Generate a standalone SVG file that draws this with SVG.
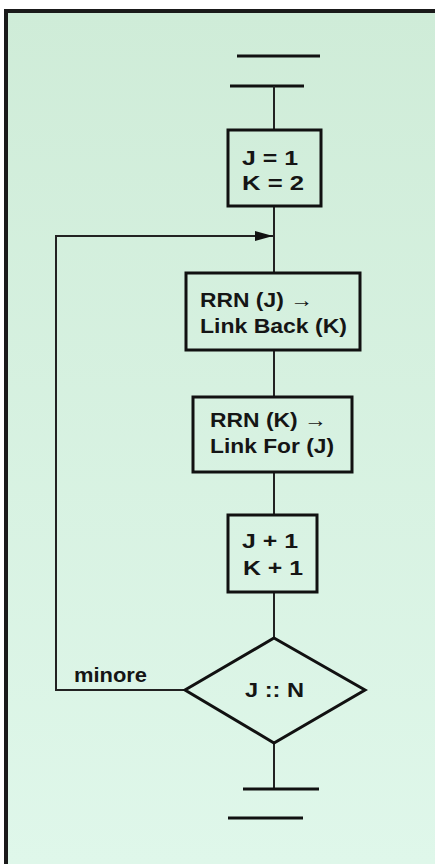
<svg xmlns="http://www.w3.org/2000/svg" width="435" height="867" viewBox="0 0 435 867">
<defs>
<linearGradient id="bg" x1="0" y1="0" x2="0" y2="1">
<stop offset="0" stop-color="#cfecd8"/>
<stop offset="1" stop-color="#dff7ea"/>
</linearGradient>
<marker id="arr" markerWidth="18" markerHeight="10" refX="18" refY="5" orient="auto" markerUnits="userSpaceOnUse">
<path d="M0,0 L18,5 L0,10 Z" fill="#111"/>
</marker>
<style>
.box{fill:none;stroke:#111;stroke-width:3}
.ln{fill:none;stroke:#222;stroke-width:2}
.bar{stroke:#111;stroke-width:3}
.t{font-family:"Liberation Sans",Arial,sans-serif;font-weight:bold;font-size:20px;fill:#151515}
</style>
</defs>
<rect x="0" y="0" width="435" height="867" fill="#ffffff"/>
<rect x="6" y="11" width="429" height="853" fill="url(#bg)"/>
<line x1="6" y1="11" x2="435" y2="11" stroke="#1a1a1a" stroke-width="4"/>
<line x1="6" y1="9" x2="6" y2="864" stroke="#1a1a1a" stroke-width="4"/>

<g id="connectors">
<line class="bar" x1="237" y1="56" x2="320" y2="56"/>
<line class="bar" x1="230" y1="86" x2="304" y2="86"/>
<line class="ln" x1="274" y1="86" x2="274" y2="130"/>
<line class="ln" x1="274" y1="206" x2="274" y2="273"/>
<line class="ln" x1="274" y1="350" x2="274" y2="397"/>
<line class="ln" x1="274" y1="472" x2="274" y2="515"/>
<line class="ln" x1="274" y1="592" x2="274" y2="638"/>
<line class="ln" x1="274" y1="743" x2="274" y2="789"/>
<line class="bar" x1="243" y1="789" x2="319" y2="789"/>
<line class="bar" x1="228" y1="818" x2="303" y2="818"/>
<polyline class="ln" points="185,690 56,690 56,236 273,236" marker-end="url(#arr)"/>
<text class="t" x="74" y="682" textLength="73" lengthAdjust="spacingAndGlyphs">minore</text>
</g>

<g id="init">
<rect class="box" x="228" y="130" width="93" height="76"/>
<text class="t" x="242" y="165" textLength="56" lengthAdjust="spacingAndGlyphs">J = 1</text>
<text class="t" x="242" y="190" textLength="62" lengthAdjust="spacingAndGlyphs">K = 2</text>
</g>
<g id="linkback">
<rect class="box" x="186" y="273" width="174" height="77"/>
<text class="t" x="200" y="307" textLength="113" lengthAdjust="spacingAndGlyphs">RRN (J) →</text>
<text class="t" x="200" y="333" textLength="147" lengthAdjust="spacingAndGlyphs">Link Back (K)</text>
</g>
<g id="linkfor">
<rect class="box" x="193" y="397" width="159" height="75"/>
<text class="t" x="210" y="427" textLength="117" lengthAdjust="spacingAndGlyphs">RRN (K) →</text>
<text class="t" x="210" y="453" textLength="124" lengthAdjust="spacingAndGlyphs">Link For (J)</text>
</g>
<g id="incr">
<rect class="box" x="228" y="515" width="89" height="77"/>
<text class="t" x="242" y="548" textLength="56" lengthAdjust="spacingAndGlyphs">J + 1</text>
<text class="t" x="243" y="575" textLength="60" lengthAdjust="spacingAndGlyphs">K + 1</text>
</g>
<g id="test">
<polygon class="box" points="274,638 365,690 274,743 185,690"/>
<text class="t" x="245" y="697" textLength="59" lengthAdjust="spacingAndGlyphs">J :: N</text>
</g>
</svg>
